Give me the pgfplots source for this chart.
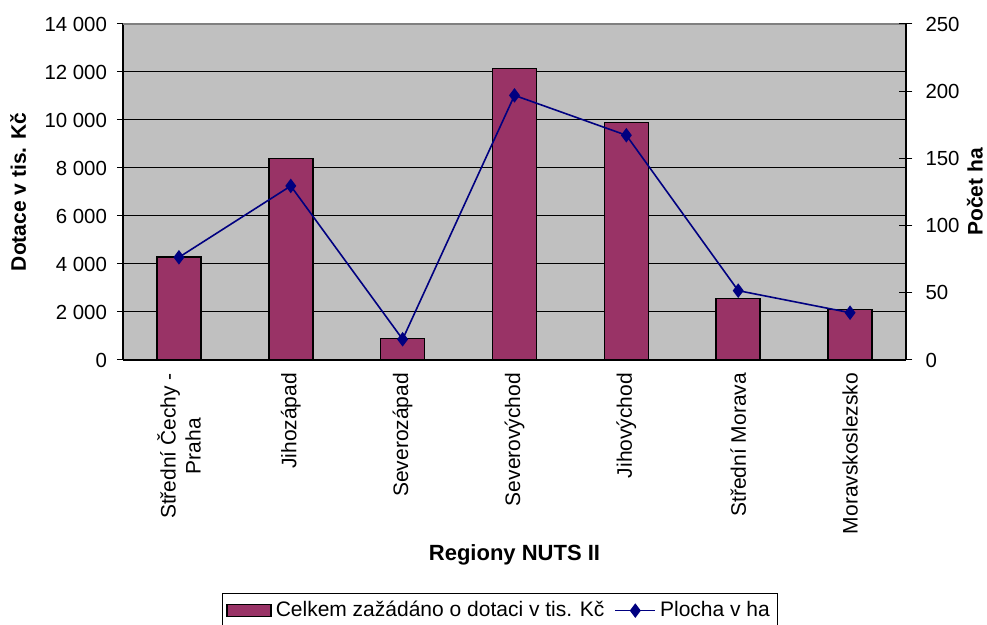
\documentclass[border=0pt]{standalone}
\usepackage{pgfplots}
\pgfplotsset{compat=1.18}
\usepackage{fontspec}
\setmainfont{Liberation Sans}
\definecolor{barc}{HTML}{993366}
\definecolor{linec}{HTML}{000080}
\definecolor{bgc}{HTML}{C0C0C0}
\definecolor{brd}{HTML}{808080}
\pgfplotsset{
  linelegend/.style={legend image code/.code={\draw[##1] (0pt,0pt) -- (20pt,0pt); \draw[##1] plot coordinates {(10pt,0pt)};}},
  barlegend/.style={legend image code/.code={\draw[fill=barc, draw=black, line width=0.8pt] (0pt,-3pt) rectangle (22pt,3pt);}},
}
\begin{document}
\begin{tikzpicture}
\path[use as bounding box] (0,0) rectangle (493.5pt,312.5pt);
\begin{axis}[
  at={(61.5pt,132.5pt)}, anchor=south west,
  scale only axis, width=391.5pt, height=168pt,
  xmin=-0.5, xmax=6.5, ymin=0, ymax=14000,
  scaled y ticks=false,
  axis x line*=bottom, axis y line*=left,
  axis line style={black, line width=0.6pt},
  axis background/.style={fill=bgc},
  ytick={0,2000,...,14000},
  yticklabels={0,{2 000},{4 000},{6 000},{8 000},{10 000},{12 000},{14 000}},
  ymajorgrids, major grid style={black, line width=0.5pt},
  ytick align=outside, major tick length=3pt,
  ytick style={black, line width=0.5pt},
  yticklabel style={font=\fontsize{10.2}{12}\selectfont, xshift=-1.5pt},
  xtick={0,...,6},
  xticklabels={{Střední Čechy -\\Praha},Jihozápad,Severozápad,Severovýchod,Jihovýchod,{Střední Morava},Moravskoslezsko},
  xticklabel style={rotate=90, anchor=east, align=center, font=\fontsize{10.5}{12.5}\selectfont},
  xtick style={draw=none},
  minor xtick={-0.5,0.5,...,6.5},
  minor x tick style={black, line width=0.5pt},
  xtick align=outside, minor tick length=3.5pt,
  xlabel={\bfseries Regiony NUTS II},
  xlabel style={at={(axis description cs:0.5,-0.58)}, anchor=center, font=\fontsize{11}{13}\selectfont},
  ylabel={\bfseries Dotace v tis. Kč},
  ylabel style={at={(axis description cs:-0.134,0.5)}, anchor=center, rotate=0, font=\fontsize{10.5}{12.5}\selectfont},
  ybar, bar width=22pt,
  clip=false,
]
\addplot[fill=barc, draw=black, line width=0.8pt] coordinates {
  (0,4280) (1,8390) (2,900) (3,12140) (4,9900) (5,2570) (6,2100)
};
\draw[brd, line width=0.6pt] (rel axis cs:0,1) -- (rel axis cs:1,1);
\end{axis}
\begin{axis}[
  at={(61.5pt,132.5pt)}, anchor=south west,
  scale only axis, width=391.5pt, height=168pt,
  xmin=-0.5, xmax=6.5, ymin=0, ymax=250,
  axis x line=none, axis y line*=right,
  axis line style={black, line width=0.6pt},
  ytick={0,50,...,250},
  ytick align=center, major tick length=6.5pt,
  ytick style={black, line width=0.5pt},
  yticklabel style={font=\fontsize{10.2}{12}\selectfont, xshift=3pt},
  /pgf/number format/assume math mode=true,
  ylabel={\bfseries Počet ha},
  ylabel style={at={(axis description cs:1.088,0.5)}, anchor=center, rotate=0, font=\fontsize{10.5}{12.5}\selectfont},
  legend columns=2,
  legend style={at={(axis description cs:0.4815,-0.6935)}, anchor=north, draw=black, fill=white,
    font=\fontsize{10.5}{12.5}\selectfont, /tikz/every even column/.append style={column sep=3pt},
    inner sep=2pt},
  clip=false,
]
\addlegendimage{barlegend}
\addlegendentry{Celkem zažádáno o dotaci v tis. Kč}
\addplot[linec, line width=0.8pt, mark=diamond*, mark size=3pt, mark options={fill=linec, draw=linec}, linelegend] coordinates {
  (0,76.4) (1,129.5) (2,15.4) (3,196.9) (4,167.2) (5,51.6) (6,35.2)
};
\addlegendentry{Plocha v ha}
\end{axis}
\end{tikzpicture}
\end{document}
